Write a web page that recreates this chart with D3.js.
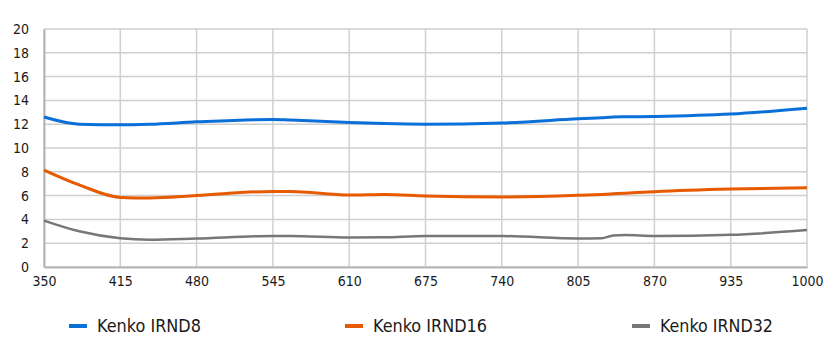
<!DOCTYPE html>
<html>
<head>
<meta charset="utf-8">
<script src="https://cdn.jsdelivr.net/npm/d3@7"></script>
<style>
  body { margin: 0; background: #fff; }
  text { font-family: "DejaVu Sans Condensed", "DejaVu Sans", sans-serif; fill: #1a1a1a; }
</style>
</head>
<body>
<div id="chart"></div>
<script>
// wavelength (nm) sample points
const wavelengths = [350, 380, 415, 440, 480, 545, 560, 610, 640, 675, 740, 805, 825, 835, 845, 870, 935, 1000];
const irnd8  = [12.6, 12.0, 11.95, 12.0, 12.2, 12.4, 12.35, 12.15, 12.05, 12.0, 12.1, 12.45, 12.55, 12.6, 12.62, 12.65, 12.85, 13.35];
const irnd16 = [8.15, 6.9, 5.85, 5.8, 6.0, 6.35, 6.35, 6.05, 6.1, 5.97, 5.88, 6.02, 6.1, 6.15, 6.2, 6.33, 6.55, 6.66];
const irnd32 = [3.9, 3.0, 2.42, 2.3, 2.4, 2.6, 2.6, 2.48, 2.5, 2.6, 2.6, 2.4, 2.42, 2.65, 2.68, 2.6, 2.7, 3.1];
const xTicks = [350, 415, 480, 545, 610, 675, 740, 805, 870, 935, 1000];
const yTicks = [0, 2, 4, 6, 8, 10, 12, 14, 16, 18, 20];

const series = [
  {name: 'Kenko IRND8', values: irnd8, color: '#0a70d8', width: 3},
  {name: 'Kenko IRND16', values: irnd16, color: '#e65a00', width: 3},
  {name: 'Kenko IRND32', values: irnd32, color: '#777777', width: 2.5}
];

const width = 830, height = 352;
const margin = {left: 44, right: 23, top: 29, bottom: 85};

let svg = d3.select('#chart').append('svg')
  .attr('width', width)
  .attr('height', height);

let x = d3.scaleLinear().domain([350, 1000]).range([margin.left, width - margin.right]);
let y = d3.scaleLinear().domain([0, 20]).range([height - margin.bottom, margin.top]);

// grid
let grid = svg.append('g');
grid.selectAll('.hg').data(yTicks).enter().append('line')
  .attr('x1', margin.left).attr('x2', width - margin.right)
  .attr('y1', d => y(d)).attr('y2', d => y(d))
  .attr('stroke', '#cfcfcf').attr('stroke-width', 1.5);
grid.selectAll('.vg').data(xTicks).enter().append('line')
  .attr('y1', margin.top).attr('y2', height - margin.bottom)
  .attr('x1', d => x(d)).attr('x2', d => x(d))
  .attr('stroke', '#cfcfcf').attr('stroke-width', 1.5);

// axes
let yAxis = svg.append('g')
  .attr('transform', `translate(${margin.left},0)`)
  .call(d3.axisLeft(y).tickValues(yTicks).tickSize(0).tickPadding(15));
yAxis.select('.domain').attr('stroke', '#b5b5b5').attr('stroke-width', 2);
yAxis.selectAll('text').attr('font-size', 14).style('font-family', '"DejaVu Sans Condensed", "DejaVu Sans", sans-serif').attr('fill', '#1a1a1a');

let xAxis = svg.append('g')
  .attr('transform', `translate(0,${height - margin.bottom})`)
  .call(d3.axisBottom(x).tickValues(xTicks).tickFormat(d3.format('d')).tickSize(0).tickPadding(9));
xAxis.select('.domain').attr('stroke', '#b5b5b5').attr('stroke-width', 2);
xAxis.selectAll('text').attr('font-size', 14).style('font-family', '"DejaVu Sans Condensed", "DejaVu Sans", sans-serif').attr('fill', '#1a1a1a');

// lines
let line = d3.line()
  .x((d, i) => x(wavelengths[i]))
  .y(d => y(d))
  .curve(d3.curveMonotoneX);

svg.append('g').selectAll('path')
  .data(series)
  .enter()
  .append('path')
  .attr('d', d => line(d.values))
  .attr('fill', 'none')
  .attr('stroke', d => d.color)
  .attr('stroke-width', d => d.width);

// legend
let legendX = [69, 345, 632];
let legendLen = [104, 114, 113];
let legend = svg.append('g').selectAll('g')
  .data(series)
  .enter()
  .append('g')
  .attr('transform', (d, i) => `translate(${legendX[i]},326)`);
legend.append('line')
  .attr('x1', 0).attr('x2', 18)
  .attr('stroke', d => d.color).attr('stroke-width', 4);
legend.append('text')
  .attr('x', 28).attr('dy', '0.35em')
  .attr('font-size', 17)
  .attr('textLength', (d, i) => legendLen[i])
  .attr('lengthAdjust', 'spacingAndGlyphs')
  .text(d => d.name);
</script>
</body>
</html>
